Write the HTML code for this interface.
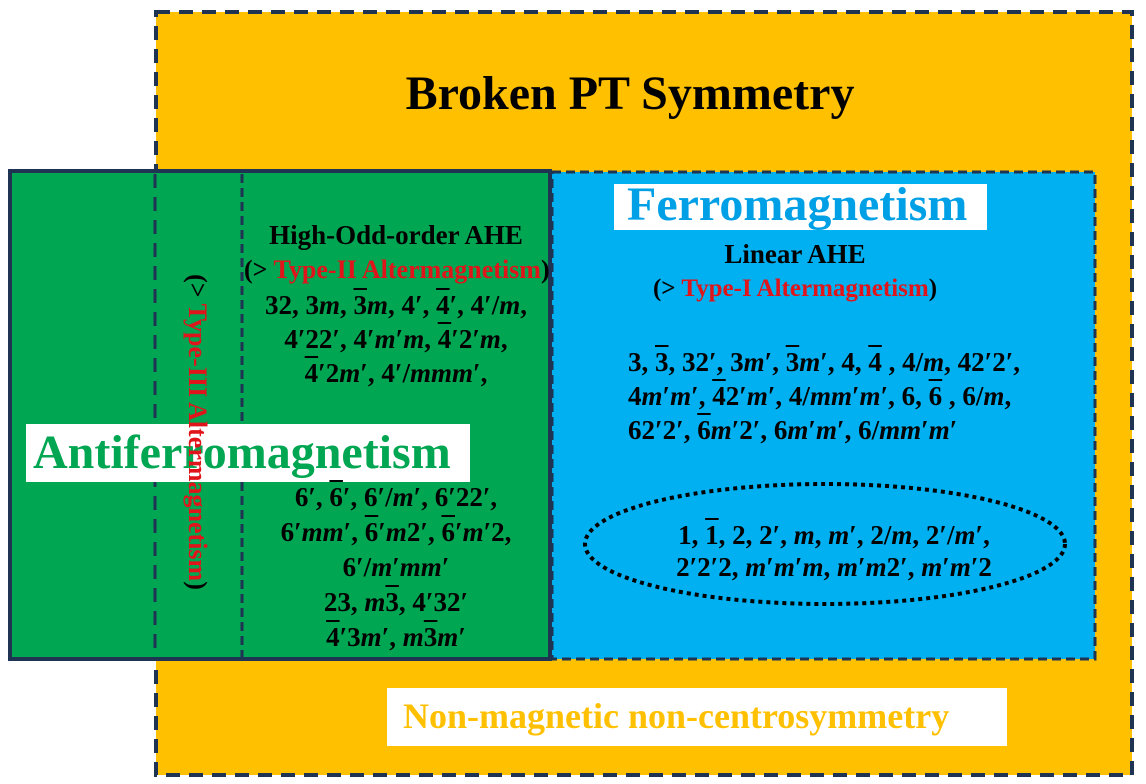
<!DOCTYPE html>
<html><head><meta charset="utf-8">
<style>
html,body{margin:0;padding:0;background:#fff;}
body{width:1146px;height:784px;position:relative;overflow:hidden;font-family:"Liberation Serif",serif;font-weight:bold;}
.a{position:absolute;white-space:nowrap;}
.c{text-align:center;}
.o{text-decoration:overline;}
i{font-style:italic;}
.m{font-size:27px;color:#000;}
.red{color:#e0151b;}
</style></head><body>
<svg class="a" style="left:0;top:0" width="1146" height="784">
<rect x="156" y="12" width="976" height="763" fill="#ffc000" stroke="#1f3352" stroke-width="4" stroke-dasharray="14,9"/>
<rect x="552" y="172" width="543" height="487" fill="#00b0f0" stroke="#1f3352" stroke-width="3" stroke-dasharray="9,5"/>
<rect x="10" y="171" width="540" height="488" fill="#00a651" stroke="#1f3352" stroke-width="4"/>
<line x1="155" y1="174" x2="155" y2="657" stroke="#1f3352" stroke-width="3" stroke-dasharray="14,9"/>
<line x1="242" y1="174" x2="242" y2="657" stroke="#1f3352" stroke-width="3" stroke-dasharray="9,5"/>
<ellipse cx="825" cy="544" rx="240" ry="60" fill="none" stroke="#000" stroke-width="4" stroke-dasharray="4,4"/>
<rect x="26" y="424" width="444" height="58" fill="#fff"/>
<rect x="614" y="184" width="373" height="46" fill="#fff"/>
<rect x="387" y="688" width="620" height="58" fill="#fff"/>
</svg>
<div class="a c" style="left:130px;width:1000px;top:64px;font-size:48px;line-height:60px;color:#000;">Broken PT Symmetry</div>
<div class="a" style="left:33px;top:424px;font-size:48px;line-height:58px;color:#00a651;">Antiferromagnetism</div>
<div class="a" style="left:627px;top:180px;font-size:48px;line-height:50px;color:#00a0e6;">Ferromagnetism</div>
<div class="a" style="left:403px;top:694px;font-size:36px;line-height:44px;color:#ffc000;">Non-magnetic non-centrosymmetry</div>
<div class="a" style="left:197px;top:432px;transform:translate(-50%,-50%) rotate(90deg);font-size:26px;color:#000;">(&gt; <span class="red">Type-III Altermagnetism</span>)</div>
<div class="a c" style="left:244px;width:304px;top:218px;font-size:27px;line-height:34px;">High-Odd-order AHE<br><span style="font-size:26px">(&gt; <span class="red">Type-II Altermagnetism</span>)</span></div>
<div class="a c m" style="left:244px;width:304px;top:288px;line-height:34px;">32, 3<i>m</i>, <span class="o">3</span><i>m</i>, 4′, <span class="o">4</span>′, 4′/<i>m</i>,<br>4′22′, 4′<i>m</i>′<i>m</i>, <span class="o">4</span>′2′<i>m</i>,<br><span class="o">4</span>′2<i>m</i>′, 4′/<i>mmm</i>′,</div>
<div class="a c m" style="left:244px;width:304px;top:480px;line-height:35px;">6′, <span class="o">6</span>′, 6′/<i>m</i>′, 6′22′,<br>6′<i>mm</i>′, <span class="o">6</span>′<i>m</i>2′, <span class="o">6</span>′<i>m</i>′2,<br>6′/<i>m</i>′<i>mm</i>′<br>23, <i>m</i><span class="o">3</span>, 4′32′<br><span class="o">4</span>′3<i>m</i>′, <i>m</i><span class="o">3</span><i>m</i>′</div>
<div class="a c" style="left:645px;width:300px;top:238px;font-size:27px;line-height:33px;">Linear AHE<br><span style="font-size:25px">(&gt; <span class="red">Type-I Altermagnetism</span>)</span></div>
<div class="a m" style="left:628px;top:345px;line-height:34px;">3, <span class="o">3</span>, 32′, 3<i>m</i>′, <span class="o">3</span><i>m</i>′, 4, <span class="o">4</span> , 4/<i>m</i>, 42′2′,<br>4<i>m</i>′<i>m</i>′, <span class="o">4</span>2′<i>m</i>′, 4/<i>mm</i>′<i>m</i>′, 6, <span class="o">6</span> , 6/<i>m</i>,<br>62′2′, <span class="o">6</span><i>m</i>′2′, 6<i>m</i>′<i>m</i>′, 6/<i>mm</i>′<i>m</i>′</div>
<div class="a c m" style="left:600px;width:468px;top:519px;line-height:32px;">1, <span class="o">1</span>, 2, 2′, <i>m</i>, <i>m</i>′, 2/<i>m</i>, 2′/<i>m</i>′,<br>2′2′2, <i>m</i>′<i>m</i>′<i>m</i>, <i>m</i>′<i>m</i>2′, <i>m</i>′<i>m</i>′2</div>
</body></html>
